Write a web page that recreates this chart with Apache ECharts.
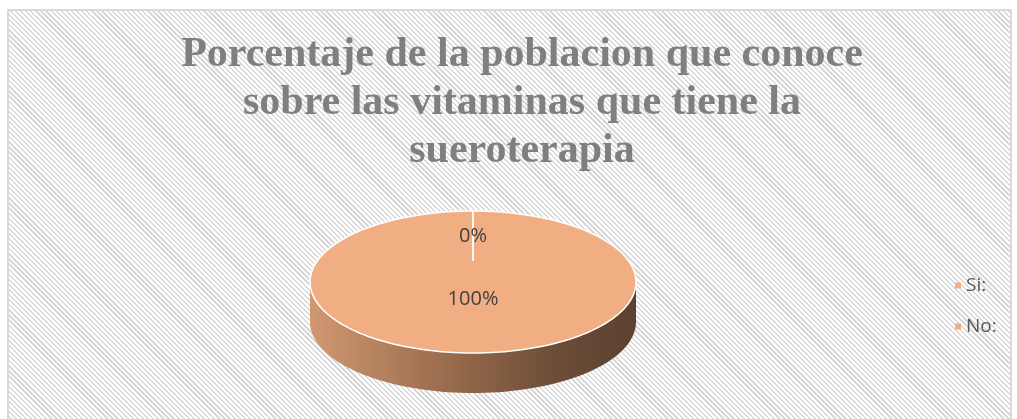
<!DOCTYPE html>
<html>
<head>
<meta charset="utf-8">
<script src="https://cdn.jsdelivr.net/npm/echarts@6/dist/echarts.min.js"></script>
<style>
    html, body { margin: 0; padding: 0; background: #fff; }
    #frame {
        position: absolute; left: 7px; top: 9px; width: 1001px; height: 420px;
        border: 2px solid #d9d9d9; border-bottom: none;
        background: repeating-linear-gradient(45deg, #fff 0, #fff 2px, #d9d9d9 2px, #d9d9d9 3.6px);
    }
    #chart { position: absolute; left: 0; top: 0; width: 1017px; height: 419px; }
</style>
</head>
<body>
<div id="frame"></div>
<div id="chart"></div>
<script>
    // datos
    var categories = ['Si:', 'No:'];
    var values = [100, 0];
    var sliceColors = ['#F1AE82', '#F1AE82'];
    var titleLines = ['Porcentaje de la poblacion que conoce', 'sobre las vitaminas que tiene la', 'sueroterapia'];

    // pastel 3D (elipse + pared)
    var pie = { cx: 473, cy: 282, rx: 163, ry: 71, depth: 40, labelFrac: [0.25, 0.65] };
    var total = values.reduce(function (a, b) { return a + b; }, 0);

    function arcPts(a0, a1, dy, r, n) {
        var pts = [];
        for (var k = 0; k <= n; k++) {
            var a = a0 + (a1 - a0) * k / n;
            pts.push([pie.cx + pie.rx * r * Math.cos(a), pie.cy + dy - pie.ry * r * Math.sin(a)]);
        }
        return pts;
    }

    var wallFill = new echarts.graphic.LinearGradient(pie.cx - pie.rx, 0, pie.cx + pie.rx, 0, [
        { offset: 0, color: '#D09871' },
        { offset: 0.45, color: '#95694B' },
        { offset: 0.75, color: '#6C4D38' },
        { offset: 1, color: '#5B4130' }
    ], true);

    function makeRender(idx) {
        return function (params, api) {
            var before = 0;
            for (var i = 0; i < idx; i++) before += values[i];
            var v = api.value(0);
            var a0 = Math.PI / 2 - 2 * Math.PI * before / total;
            var a1 = Math.PI / 2 - 2 * Math.PI * (before + v) / total;
            var children = [];
            // pared frontal
            var w0 = Math.min(a0, 0), w1 = Math.max(a1, -Math.PI);
            if (w0 > w1) {
                var top = arcPts(w0, w1, 0, 1, 80);
                var bottom = arcPts(w1, w0, pie.depth, 1, 80);
                children.push({ type: 'polygon', shape: { points: top.concat(bottom) }, style: { fill: wallFill } });
            }
            // cara superior
            var face = arcPts(a0, a1, 0, 1, 160);
            if (v < total) face.push([pie.cx, pie.cy]);
            if (v > 0) {
                children.push({ type: 'polygon', shape: { points: face }, style: { fill: sliceColors[idx] } });
                children.push({ type: 'polyline', shape: { points: arcPts(a0, a1, 0, 1, 160) }, style: { stroke: '#fff', lineWidth: 1.5, fill: null } });
            }
            // borde del sector
            children.push({
                type: 'line',
                shape: {
                    x1: pie.cx + pie.rx * 0.3 * Math.cos(a0), y1: pie.cy - pie.ry * 0.3 * Math.sin(a0),
                    x2: pie.cx + pie.rx * Math.cos(a0), y2: pie.cy - pie.ry * Math.sin(a0)
                },
                style: { stroke: '#fff', lineWidth: 1.5 }
            });
            // etiqueta
            var am = (a0 + a1) / 2, lf = pie.labelFrac[idx];
            children.push({
                type: 'text',
                style: {
                    text: Math.round(v / total * 100) + '%',
                    x: pie.cx + pie.rx * lf * Math.cos(am),
                    y: pie.cy - pie.ry * lf * Math.sin(am),
                    align: 'center', verticalAlign: 'middle',
                    font: '20px "Open Sans"', fill: '#404040'
                },
                z2: 10
            });
            return { type: 'group', children: children };
        };
    }

    var myChart = echarts.init(document.getElementById('chart'));
    var option = {
        animation: false,
        title: {
            text: titleLines.join('\n'),
            left: 517,
            textAlign: 'center',
            top: 26,
            textStyle: {
                fontFamily: '"Liberation Serif", serif',
                fontWeight: 'bold',
                fontSize: 42,
                lineHeight: 48,
                color: '#7F7F7F'
            }
        },
        legend: {
            data: categories,
            orient: 'vertical',
            left: 950,
            top: 271,
            icon: 'rect',
            itemWidth: 6,
            itemHeight: 6,
            itemGap: 22,
            textStyle: { fontFamily: '"Open Sans"', fontSize: 19, color: '#595959' }
        },
        series: categories.map(function (name, i) {
            return {
                name: name,
                type: 'custom',
                coordinateSystem: 'none',
                itemStyle: { color: sliceColors[i] },
                renderItem: makeRender(i),
                data: [values[i]]
            };
        })
    };
    myChart.setOption(option);
</script>
</body>
</html>
